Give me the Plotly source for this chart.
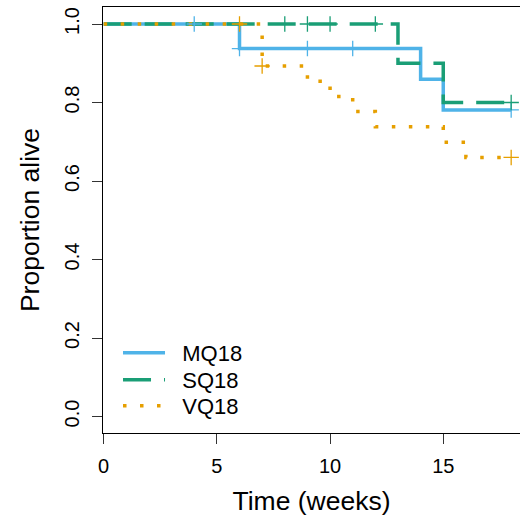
import plotly.graph_objects as go

# Kaplan-Meier step data (time in weeks, proportion alive)
mq_time = [0, 6, 14, 15, 18]
mq_surv = [1.0, 0.9375, 0.859, 0.781, 0.781]
mq_cens_time = [4, 6, 9, 11, 18]
mq_cens_surv = [1.0, 0.9375, 0.9375, 0.9375, 0.781]

sq_time = [0, 13, 15, 18]
sq_surv = [1.0, 0.9, 0.8, 0.8]
sq_cens_time = [8, 9, 10, 12, 18]
sq_cens_surv = [1.0, 1.0, 1.0, 1.0, 0.8]

vq_time = [0, 7, 9, 10, 11, 12, 15, 16, 18]
vq_surv = [1.0, 0.893, 0.854, 0.815, 0.777, 0.738, 0.699, 0.660, 0.660]
vq_cens_time = [6, 7, 18]
vq_cens_surv = [1.0, 0.893, 0.660]

names = ["MQ18", "SQ18", "VQ18"]
colors = ["#4FB3E8", "#1A9E76", "#E69F00"]
dashes = ["solid", "28px,13px", "3.5px,13.5px"]

x_ticks = [0, 5, 10, 15]
y_ticks = [0.0, 0.2, 0.4, 0.6, 0.8, 1.0]
y_tick_text = ["0.0", "0.2", "0.4", "0.6", "0.8", "1.0"]

FONT = "Liberation Sans, Arial, Helvetica, sans-serif"

fig = go.Figure()
series = [
    (mq_time, mq_surv, mq_cens_time, mq_cens_surv),
    (sq_time, sq_surv, sq_cens_time, sq_cens_surv),
    (vq_time, vq_surv, vq_cens_time, vq_cens_surv),
]
legend_ids = ["legend", "legend2", "legend3"]
for (t, s, ct, cs), name, col, dash, lg in zip(series, names, colors, dashes, legend_ids):
    fig.add_trace(go.Scatter(
        x=t, y=s, mode="lines", name="\u00a0\u00a0" + name, legend=lg,
        line=dict(color=col, width=3.5, dash=dash, shape="hv"),
    ))
for (t, s, ct, cs), name, col in zip(series, names, colors):
    fig.add_trace(go.Scatter(
        x=ct, y=cs, mode="markers", showlegend=False, name=name,
        marker=dict(symbol="cross-thin", size=11, line=dict(color=col, width=1.3)),
    ))

def leg(ypix):
    # ypix: vertical centre of the legend row in figure pixels
    return dict(
        x=0.036, y=(521 - 88 - ypix) / (521 - 88 - 7), xanchor="left", yanchor="middle",
        bgcolor="rgba(0,0,0,0)", font=dict(size=22, family=FONT, color="black"),
        itemwidth=42,
    )

fig.update_layout(
    width=520, height=521,
    margin=dict(l=103, r=0, t=7, b=88, autoexpand=False),
    plot_bgcolor="white", paper_bgcolor="white",
    font=dict(family=FONT, size=20, color="black"),
    showlegend=True,
    legend=leg(353), legend2=leg(380), legend3=leg(406),
    xaxis=dict(
        range=[-0.03, 18.39], tickvals=x_ticks, ticks="outside", ticklen=10,
        tickcolor="#333", showline=True, linecolor="black", linewidth=1.2,
        mirror=True, showgrid=False, zeroline=False, automargin=False,
        tickfont=dict(size=20), ticklabelstandoff=5,
        title=dict(text="Time (weeks)", font=dict(size=26.5), standoff=15),
    ),
    yaxis=dict(
        range=[-0.042, 1.0433], tickvals=y_ticks, ticktext=y_tick_text,
        ticks="outside", ticklen=10, tickcolor="#333", tickangle=-90,
        showline=True, linecolor="black", linewidth=1.2, mirror=False,
        showgrid=False, zeroline=False, tickfont=dict(size=20), automargin=False,
        ticklabelstandoff=5,
        title=dict(text="Proportion alive", font=dict(size=26.5), standoff=13),
    ),
)

fig.write_html(
    "out.html",
    config={"displayModeBar": False},
    post_script="document.body.style.margin='0';document.body.style.padding='0';",
)
